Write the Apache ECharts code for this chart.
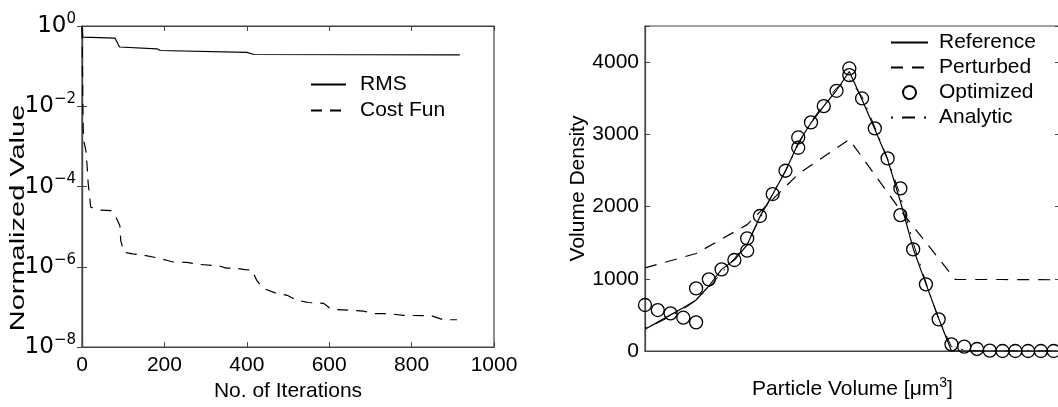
<!DOCTYPE html>
<html>
<head>
<meta charset="utf-8">
<script src="https://cdn.jsdelivr.net/npm/echarts@6/dist/echarts.min.js"></script>
<style>
  html, body { margin: 0; padding: 0; background: #fff; overflow: hidden; }
  #chart { width: 1062px; height: 407px; }
</style>
</head>
<body>
<div id="chart"></div>
<script>
// left panel: convergence history
const rmsIter = [0, 2, 80, 84, 91, 182, 190, 400, 418, 917]
const rmsVal = [0.95, 0.53, 0.5, 0.45, 0.3, 0.27, 0.245, 0.22, 0.195, 0.19]

const costIter = [0, 1, 2, 3, 5, 10, 13, 15, 18, 21, 31, 41, 70, 80, 92, 94, 102, 123, 155, 185, 214, 222, 255, 285, 327, 334,
  350, 369, 395, 413, 424, 440, 471, 498, 521, 549, 586, 606, 649, 683, 711, 745, 780, 849, 877, 910]
const costVal = [0.9, 0.15, 0.01, 2.75e-3, 1.29e-3, 7.2e-4, 2.6e-4, 1.2e-4, 6.3e-5, 3.1e-5, 2.8e-5, 2.6e-5, 2.5e-5, 1.95e-5,
  1.05e-5, 4.5e-6, 2.3e-6, 2.1e-6, 1.9e-6, 1.66e-6, 1.38e-6, 1.32e-6, 1.29e-6, 1.15e-6, 1.07e-6, 1.05e-6, 9.3e-7, 9.3e-7,
  8.5e-7, 8.3e-7, 4.6e-7, 2.9e-7, 2.2e-7, 1.95e-7, 1.48e-7, 1.29e-7, 1.23e-7, 8.7e-8, 8.3e-8, 7.9e-8, 6.8e-8, 6.8e-8,
  6.2e-8, 6.0e-8, 4.8e-8, 4.8e-8]

const iterTicks = [0, 200, 400, 600, 800, 1000]

// right panel: volume density vs particle volume bin
const volIdx = [0, 1, 2, 3, 4, 5, 6, 7, 8, 9, 10, 11, 12, 13, 14, 15, 16, 17, 18, 19, 20, 21, 22, 23, 24, 25, 26, 27, 28, 29, 30, 31, 32, 33]
const refDensity = [300, 400, 500, 600, 706, 900, 1130, 1260, 1470, 1860, 2170, 2490, 2880, 3160, 3390, 3610, 3870, 3480,
  3070, 2650, 2070, 1420, 930, 450, 0, 0, 0, 0, 0, 0, 0, 0, 0, 0]
const analyticDensity = [320, 390, 480, 580, 700, 880, 1080, 1280, 1500, 1830, 2170, 2500, 2860, 3170, 3420, 3640, 3760, 3520,
  3100, 2660, 2150, 1500, 950, 440, 60, 15, 0, 0, 0, 0, 0, 0, 0, 0]

const pertIdx = [0, 4, 8, 12, 16, 20, 24.3, 28, 33]
const pertDensity = [1150, 1350, 1750, 2450, 2930, 1950, 990, 990, 985]

const optIdx = [0, 1, 2, 3, 4, 4, 5, 6, 7, 8, 8, 9, 10, 11, 12, 12, 13, 14, 15, 16, 16, 17, 18, 19, 20, 20, 21, 22, 23, 24,
  25, 26, 27, 28, 29, 30, 31, 32]
const optDensity = [637, 567, 521, 461, 397, 867, 992, 1130, 1260, 1389, 1559, 1869, 2173, 2496, 2814, 2957, 3165, 3391, 3603,
  3820, 3912, 3497, 3082, 2667, 2251, 1882, 1407, 923, 438, 92, 60, 28, 5, 0, 0, 0, 0, 0]

const densityTicks = [0, 1000, 2000, 3000, 4000]

const FONT = 'Liberation Sans, Arial, sans-serif'
const WIDE_FONT = 'DejaVu Sans, sans-serif'
const AXIS_COLOR = '#444'

const zip = (xs, ys) => xs.map((x, i) => [x, ys[i]])

const chart = echarts.init(document.getElementById('chart'), null, { renderer: 'canvas' })

const tickStyle = {
  inside: true,
  length: 5,
  lineStyle: { color: AXIS_COLOR, width: 1 }
}
const lineAxis = { lineStyle: { color: AXIS_COLOR, width: 1.2 } }
const labelText = { fontFamily: FONT, fontSize: 21, color: '#000' }
// legend samples: line only, no marker
const noMarker = { opacity: 0 }

function expLabel(v) {
  const e = Math.round(Math.log10(v))
  return '10{sup|' + (e < 0 ? '\u2212' + (-e) : e) + '}'
}

const option = {
  animation: false,
  backgroundColor: '#fff',
  textStyle: { fontFamily: FONT },
  grid: [
    { left: 82, top: 26, width: 412, height: 325, show: true, borderColor: AXIS_COLOR, borderWidth: 1.2 },
    { left: 645, top: 26, width: 415, height: 325, show: true, borderColor: AXIS_COLOR, borderWidth: 1.2 }
  ],
  // the y title of the left panel is drawn wide in the original
  graphic: [{
    type: 'text',
    x: 18,
    y: 218,
    rotation: Math.PI / 2,
    scaleX: 1.38,
    style: {
      text: 'Normalized Value',
      fontFamily: FONT,
      fontSize: 21,
      fill: '#000',
      align: 'center',
      verticalAlign: 'middle'
    }
  }],
  legend: [
    {
      data: [
        { name: 'RMS', itemStyle: noMarker },
        { name: 'Cost Fun', itemStyle: noMarker }
      ],
      orient: 'vertical',
      left: 310,
      top: 74,
      padding: 0,
      itemWidth: 35,
      itemHeight: 14,
      itemGap: 5,
      textStyle: Object.assign({ padding: [0, 0, 0, 9] }, labelText)
    },
    {
      data: [
        { name: 'Reference', itemStyle: noMarker },
        { name: 'Perturbed', itemStyle: noMarker },
        'Optimized',
        { name: 'Analytic', itemStyle: noMarker }
      ],
      orient: 'vertical',
      left: 890,
      top: 32,
      padding: 0,
      itemWidth: 37,
      itemHeight: 13,
      itemGap: 4,
      textStyle: Object.assign({ padding: [0, 0, 0, 6] }, labelText)
    }
  ],
  xAxis: [
    {
      gridIndex: 0,
      type: 'value',
      min: iterTicks[0],
      max: iterTicks[iterTicks.length - 1],
      interval: iterTicks[1] - iterTicks[0],
      axisLine: lineAxis,
      axisTick: tickStyle,
      axisLabel: Object.assign({ margin: 8, formatter: v => String(v) }, labelText),
      splitLine: { show: false },
      name: 'No. of Iterations',
      nameLocation: 'middle',
      nameGap: 27,
      nameTextStyle: labelText
    },
    {
      gridIndex: 0,
      type: 'value',
      position: 'top',
      min: iterTicks[0],
      max: iterTicks[iterTicks.length - 1],
      interval: iterTicks[1] - iterTicks[0],
      axisLine: lineAxis,
      axisTick: tickStyle,
      axisLabel: { show: false },
      splitLine: { show: false }
    },
    {
      gridIndex: 1,
      type: 'value',
      min: 0,
      max: 32.5,
      axisLine: lineAxis,
      axisTick: { show: false },
      axisLabel: { show: false },
      splitLine: { show: false },
      name: 'Particle Volume [\u03bcm{sup|3}]',
      nameLocation: 'middle',
      nameGap: 25,
      nameTextStyle: Object.assign({
        rich: { sup: { fontFamily: FONT, fontSize: 14, color: '#000', padding: [0, 0, 12, 0] } }
      }, labelText)
    }
  ],
  yAxis: [
    {
      gridIndex: 0,
      type: 'log',
      logBase: 10,
      min: 1e-8,
      max: 1,
      interval: 2,
      splitNumber: 4,
      axisLine: lineAxis,
      axisTick: tickStyle,
      axisLabel: {
        margin: 6,
        formatter: expLabel,
        fontFamily: WIDE_FONT,
        fontSize: 23,
        color: '#000',
        rich: { sup: { fontFamily: WIDE_FONT, fontSize: 15, color: '#000', padding: [0, 0, 14, 0] } }
      },
      splitLine: { show: false }
    },
    {
      gridIndex: 0,
      type: 'log',
      logBase: 10,
      position: 'right',
      min: 1e-8,
      max: 1,
      interval: 2,
      splitNumber: 4,
      axisLine: lineAxis,
      axisTick: tickStyle,
      axisLabel: { show: false },
      splitLine: { show: false }
    },
    {
      gridIndex: 1,
      type: 'value',
      min: 0,
      max: 4500,
      interval: densityTicks[1] - densityTicks[0],
      axisLine: lineAxis,
      axisTick: tickStyle,
      axisLabel: Object.assign({
        margin: 6,
        formatter: v => densityTicks.indexOf(v) >= 0 ? String(v) : ''
      }, labelText),
      splitLine: { show: false },
      name: 'Volume Density',
      nameLocation: 'middle',
      nameGap: 50,
      nameTextStyle: labelText
    },
    {
      gridIndex: 1,
      type: 'value',
      position: 'right',
      min: 0,
      max: 4500,
      interval: densityTicks[1] - densityTicks[0],
      axisLine: lineAxis,
      axisTick: tickStyle,
      axisLabel: { show: false },
      splitLine: { show: false }
    }
  ],
  series: [
    {
      name: 'RMS',
      type: 'line',
      xAxisIndex: 0,
      yAxisIndex: 0,
      symbol: 'none',
      data: zip(rmsIter, rmsVal),
      lineStyle: { color: '#000', width: 1.2 },
      itemStyle: { color: '#000' }
    },
    {
      name: 'Cost Fun',
      type: 'line',
      xAxisIndex: 0,
      yAxisIndex: 0,
      symbol: 'none',
      data: zip(costIter, costVal),
      lineStyle: { color: '#000', width: 1.2, type: [11, 8] },
      itemStyle: { color: '#000' }
    },
    {
      name: 'Reference',
      type: 'line',
      xAxisIndex: 2,
      yAxisIndex: 2,
      symbol: 'none',
      data: zip(volIdx, refDensity),
      lineStyle: { color: '#000', width: 1.2 },
      itemStyle: { color: '#000' }
    },
    {
      name: 'Perturbed',
      type: 'line',
      xAxisIndex: 2,
      yAxisIndex: 2,
      symbol: 'none',
      data: zip(pertIdx, pertDensity),
      lineStyle: { color: '#000', width: 1.2, type: [12, 9] },
      itemStyle: { color: '#000' }
    },
    {
      name: 'Optimized',
      type: 'scatter',
      xAxisIndex: 2,
      yAxisIndex: 2,
      symbol: 'circle',
      symbolSize: 13,
      data: zip(optIdx, optDensity),
      itemStyle: { color: 'rgba(0,0,0,0)', borderColor: '#000', borderWidth: 1.3, opacity: 1 }
    },
    {
      name: 'Analytic',
      type: 'line',
      xAxisIndex: 2,
      yAxisIndex: 2,
      symbol: 'none',
      data: zip(volIdx, analyticDensity),
      lineStyle: { color: '#000', width: 1, type: [2, 9, 13, 9] },
      itemStyle: { color: '#000' }
    }
  ]
}

chart.setOption(option)
</script>
</body>
</html>
